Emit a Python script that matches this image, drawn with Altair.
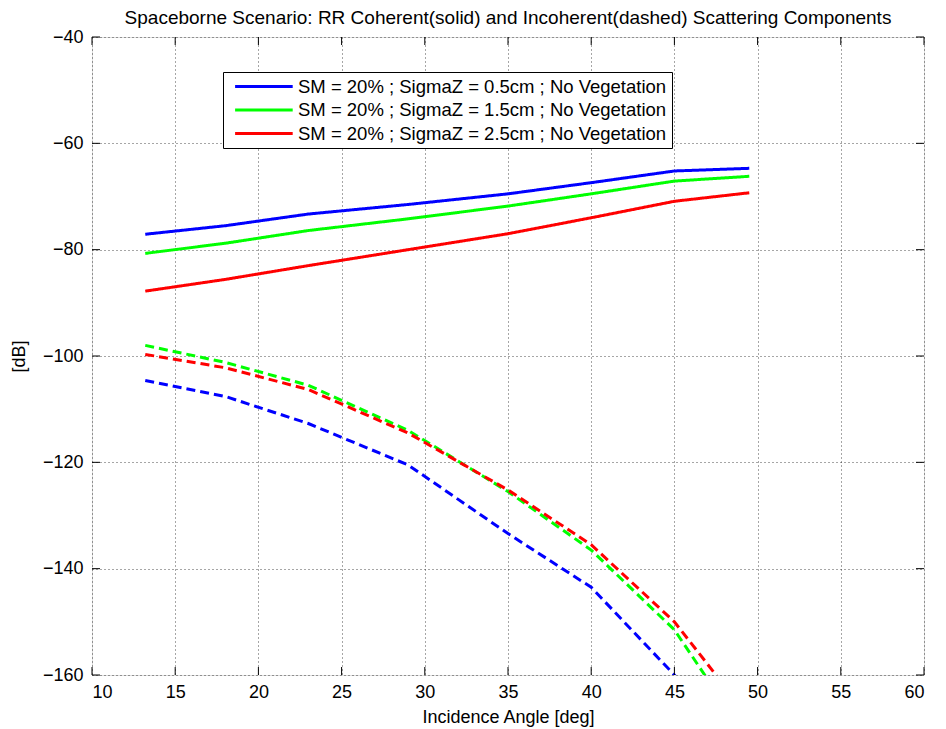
import altair as alt
import pandas as pd

angles = [13.2, 18, 23, 29, 35, 40, 45, 49.5]

labels = [
    "SM = 20% ; SigmaZ = 0.5cm ; No Vegetation",
    "SM = 20% ; SigmaZ = 1.5cm ; No Vegetation",
    "SM = 20% ; SigmaZ = 2.5cm ; No Vegetation",
]
colors = ["#0000ff", "#00ff00", "#ff0000"]

coh_05 = [-77.1, -75.5, -73.3, -71.5, -69.5, -67.4, -65.2, -64.7]
coh_15 = [-80.7, -78.8, -76.4, -74.2, -71.8, -69.5, -67.1, -66.2]
coh_25 = [-87.8, -85.6, -83.0, -80.0, -77.0, -74.0, -70.9, -69.3]

inc_05 = [-104.6, -107.6, -112.7, -120.5, -133.4, -143.5, -160.0, -178.0]
inc_15 = [-98.0, -101.2, -105.5, -114.0, -125.5, -136.5, -151.5, -172.5]
inc_25 = [-99.7, -102.2, -106.3, -114.5, -125.2, -135.5, -150.0, -168.0]

x_ticks = [10, 15, 20, 25, 30, 35, 40, 45, 50, 55, 60]
y_ticks = [-160, -140, -120, -100, -80, -60, -40]

rows = []
for lab, coh, inc in zip(labels, [coh_05, coh_15, coh_25], [inc_05, inc_15, inc_25]):
    for a, c in zip(angles, coh):
        rows.append({"angle": a, "db": c, "series": lab, "kind": "coherent", "key": lab + "|c"})
    for a, v in zip(angles, inc):
        rows.append({"angle": a, "db": v, "series": lab, "kind": "incoherent", "key": lab + "|i"})
df = pd.DataFrame(rows)

W, H = 832, 638
FONT = "Liberation Sans"

xscale = alt.Scale(domain=[10, 60], nice=False, zero=False)
yscale = alt.Scale(domain=[-160, -40], nice=False, zero=False)

lines = alt.Chart(df).mark_line(strokeWidth=3, clip=True).encode(
    x=alt.X("angle:Q", scale=xscale,
            axis=alt.Axis(values=x_ticks, title="Incidence Angle [deg]", grid=True,
                          gridDash=[1, 3], gridColor="#000", gridOpacity=0.7,
                          domain=False, ticks=False, labelPadding=8,
                          labelFontSize=18, labelFont=FONT, labelColor="#000",
                          titleFontSize=18, titleFont=FONT, titleFontWeight="normal",
                          titleColor="#000", titlePadding=7)),
    y=alt.Y("db:Q", scale=yscale,
            axis=alt.Axis(values=y_ticks, title="[dB]", grid=True,
                          gridDash=[1, 3], gridColor="#000", gridOpacity=0.7,
                          domain=False, ticks=False, labelPadding=9,
                          labelFontSize=18, labelFont=FONT, labelColor="#000",
                          titleFontSize=18, titleFont=FONT, titleFontWeight="normal",
                          titleColor="#000", titlePadding=14)),
    color=alt.Color("series:N", scale=alt.Scale(domain=labels, range=colors),
                    legend=alt.Legend(title=None, orient="none", legendX=131, legendY=35,
                                      symbolType="M-0.3,0H6.9", symbolSize=256,
                                      symbolStrokeWidth=3, labelFontSize=18.5,
                                      labelFont=FONT, labelColor="#000", labelLimit=0,
                                      strokeColor="#000", fillColor="#fff",
                                      padding=5, rowPadding=4.5, labelOffset=51)),
    strokeDash=alt.StrokeDash("kind:N", scale=alt.Scale(domain=["coherent", "incoherent"],
                                                        range=[[1, 0], [9, 5]]), legend=None),
    detail="key:N",
)

xt = pd.DataFrame({"t": x_ticks})
yt = pd.DataFrame({"t": y_ticks})
tick_style = dict(color="#000", strokeWidth=1)
xb = alt.Chart(xt).mark_rule(**tick_style).encode(
    x=alt.X("t:Q", scale=xscale), y=alt.value(H), y2=alt.value(H - 8))
xtop = alt.Chart(xt).mark_rule(**tick_style).encode(
    x=alt.X("t:Q", scale=xscale), y=alt.value(0), y2=alt.value(8))
yl = alt.Chart(yt).mark_rule(**tick_style).encode(
    y=alt.Y("t:Q", scale=yscale), x=alt.value(0), x2=alt.value(8))
yr = alt.Chart(yt).mark_rule(**tick_style).encode(
    y=alt.Y("t:Q", scale=yscale), x=alt.value(W), x2=alt.value(W - 8))

chart = alt.layer(lines, xb, xtop, yl, yr).properties(
    width=W, height=H,
    title=alt.Title("Spaceborne Scenario: RR Coherent(solid) and Incoherent(dashed) Scattering Components",
                    fontSize=19, font=FONT, fontWeight="normal", color="#000", offset=0),
    padding={"left": 84, "top": 29, "right": 10, "bottom": 52},
    autosize=alt.AutoSizeParams(type="none"),
).configure_view(stroke="#000", strokeWidth=1).configure(background="#fff")

chart.save("out.html", embed_options={"renderer": "svg", "actions": False})
